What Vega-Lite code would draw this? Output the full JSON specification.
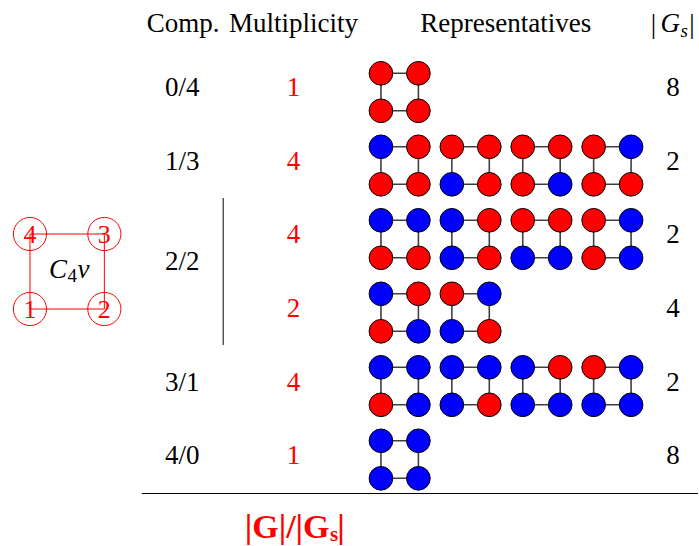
{
  "$schema": "https://vega.github.io/schema/vega-lite/v6.json",
  "width": 699,
  "height": 546,
  "autosize": {"type": "fit", "contains": "padding"},
  "padding": 0,
  "config": {
    "view": {"stroke": null},
    "axis": {"disable": true},
    "legend": {"disable": true}
  },
  "datasets": {
    "groups": [
      {"x": 381.5, "y": 73.3, "x2": 419, "y2": 110.8},
      {"x": 381.5, "y": 146.8, "x2": 419, "y2": 184.3},
      {"x": 452.5, "y": 146.8, "x2": 490, "y2": 184.3},
      {"x": 523.5, "y": 146.8, "x2": 561, "y2": 184.3},
      {"x": 594.5, "y": 146.8, "x2": 632, "y2": 184.3},
      {"x": 381.5, "y": 220.3, "x2": 419, "y2": 257.8},
      {"x": 452.5, "y": 220.3, "x2": 490, "y2": 257.8},
      {"x": 523.5, "y": 220.3, "x2": 561, "y2": 257.8},
      {"x": 594.5, "y": 220.3, "x2": 632, "y2": 257.8},
      {"x": 381.5, "y": 293.8, "x2": 419, "y2": 331.3},
      {"x": 452.5, "y": 293.8, "x2": 490, "y2": 331.3},
      {"x": 381.5, "y": 367.3, "x2": 419, "y2": 404.8},
      {"x": 452.5, "y": 367.3, "x2": 490, "y2": 404.8},
      {"x": 523.5, "y": 367.3, "x2": 561, "y2": 404.8},
      {"x": 594.5, "y": 367.3, "x2": 632, "y2": 404.8},
      {"x": 381.5, "y": 440.8, "x2": 419, "y2": 478.3}
    ],
    "nodes": [
      {"x": 381.5, "y": 73.3, "c": "R"}, {"x": 419, "y": 73.3, "c": "R"}, {"x": 381.5, "y": 110.8, "c": "R"}, {"x": 419, "y": 110.8, "c": "R"},

      {"x": 381.5, "y": 146.8, "c": "B"}, {"x": 419, "y": 146.8, "c": "R"}, {"x": 381.5, "y": 184.3, "c": "R"}, {"x": 419, "y": 184.3, "c": "R"},
      {"x": 452.5, "y": 146.8, "c": "R"}, {"x": 490, "y": 146.8, "c": "R"}, {"x": 452.5, "y": 184.3, "c": "B"}, {"x": 490, "y": 184.3, "c": "R"},
      {"x": 523.5, "y": 146.8, "c": "R"}, {"x": 561, "y": 146.8, "c": "R"}, {"x": 523.5, "y": 184.3, "c": "R"}, {"x": 561, "y": 184.3, "c": "B"},
      {"x": 594.5, "y": 146.8, "c": "R"}, {"x": 632, "y": 146.8, "c": "B"}, {"x": 594.5, "y": 184.3, "c": "R"}, {"x": 632, "y": 184.3, "c": "R"},

      {"x": 381.5, "y": 220.3, "c": "B"}, {"x": 419, "y": 220.3, "c": "B"}, {"x": 381.5, "y": 257.8, "c": "R"}, {"x": 419, "y": 257.8, "c": "R"},
      {"x": 452.5, "y": 220.3, "c": "B"}, {"x": 490, "y": 220.3, "c": "R"}, {"x": 452.5, "y": 257.8, "c": "B"}, {"x": 490, "y": 257.8, "c": "R"},
      {"x": 523.5, "y": 220.3, "c": "R"}, {"x": 561, "y": 220.3, "c": "R"}, {"x": 523.5, "y": 257.8, "c": "B"}, {"x": 561, "y": 257.8, "c": "B"},
      {"x": 594.5, "y": 220.3, "c": "R"}, {"x": 632, "y": 220.3, "c": "B"}, {"x": 594.5, "y": 257.8, "c": "R"}, {"x": 632, "y": 257.8, "c": "B"},

      {"x": 381.5, "y": 293.8, "c": "B"}, {"x": 419, "y": 293.8, "c": "R"}, {"x": 381.5, "y": 331.3, "c": "R"}, {"x": 419, "y": 331.3, "c": "B"},
      {"x": 452.5, "y": 293.8, "c": "R"}, {"x": 490, "y": 293.8, "c": "B"}, {"x": 452.5, "y": 331.3, "c": "B"}, {"x": 490, "y": 331.3, "c": "R"},

      {"x": 381.5, "y": 367.3, "c": "B"}, {"x": 419, "y": 367.3, "c": "B"}, {"x": 381.5, "y": 404.8, "c": "R"}, {"x": 419, "y": 404.8, "c": "B"},
      {"x": 452.5, "y": 367.3, "c": "B"}, {"x": 490, "y": 367.3, "c": "B"}, {"x": 452.5, "y": 404.8, "c": "B"}, {"x": 490, "y": 404.8, "c": "R"},
      {"x": 523.5, "y": 367.3, "c": "B"}, {"x": 561, "y": 367.3, "c": "R"}, {"x": 523.5, "y": 404.8, "c": "B"}, {"x": 561, "y": 404.8, "c": "B"},
      {"x": 594.5, "y": 367.3, "c": "R"}, {"x": 632, "y": 367.3, "c": "B"}, {"x": 594.5, "y": 404.8, "c": "B"}, {"x": 632, "y": 404.8, "c": "B"},

      {"x": 381.5, "y": 440.8, "c": "B"}, {"x": 419, "y": 440.8, "c": "B"}, {"x": 381.5, "y": 478.3, "c": "B"}, {"x": 419, "y": 478.3, "c": "B"}
    ],
    "lines": [
      {"x": 223.5, "y": 198, "x2": 223.5, "y2": 345},
      {"x": 142, "y": 493.5, "x2": 699, "y2": 493.5}
    ],
    "header": [
      {"x": 183.5, "y": 32, "t": "Comp."},
      {"x": 294, "y": 32, "t": "Multiplicity"},
      {"x": 506.5, "y": 32, "t": "Representatives"},
      {"x": 654.5, "y": 33, "t": "|"},
      {"x": 693, "y": 33, "t": "|"},
      {"x": 182.5, "y": 96, "t": "0/4"},
      {"x": 182.5, "y": 169.5, "t": "1/3"},
      {"x": 182.5, "y": 270, "t": "2/2"},
      {"x": 182.5, "y": 390.5, "t": "3/1"},
      {"x": 182.5, "y": 464, "t": "4/0"},
      {"x": 674, "y": 96, "t": "8"},
      {"x": 674, "y": 169.5, "t": "2"},
      {"x": 674, "y": 243, "t": "2"},
      {"x": 674, "y": 317, "t": "4"},
      {"x": 674, "y": 390.5, "t": "2"},
      {"x": 674, "y": 464, "t": "8"}
    ],
    "mult": [
      {"x": 294, "y": 96, "t": "1"},
      {"x": 294, "y": 169.5, "t": "4"},
      {"x": 294, "y": 243, "t": "4"},
      {"x": 294, "y": 317, "t": "2"},
      {"x": 294, "y": 390.5, "t": "4"},
      {"x": 294, "y": 464, "t": "1"}
    ],
    "square": [
      {"x": 30, "y": 234, "t": "4"},
      {"x": 104.5, "y": 234, "t": "3"},
      {"x": 30, "y": 309, "t": "1"},
      {"x": 104.5, "y": 309, "t": "2"}
    ]
  },
  "encoding": {
    "x": {"field": "x", "type": "quantitative", "scale": {"domain": [0, 699], "nice": false, "zero": false}},
    "y": {"field": "y", "type": "quantitative", "scale": {"domain": [546, 0], "nice": false, "zero": false}}
  },
  "layer": [
    {
      "data": {"name": "lines"},
      "mark": {"type": "rule", "color": "black", "strokeWidth": 1, "opacity": 1},
      "encoding": {"x2": {"field": "x2"}, "y2": {"field": "y2"}}
    },
    {
      "data": {"name": "groups"},
      "mark": {"type": "rect", "fillOpacity": 0, "stroke": "#404040", "strokeWidth": 1.6},
      "encoding": {"x2": {"field": "x2"}, "y2": {"field": "y2"}}
    },
    {
      "data": {"name": "nodes"},
      "mark": {"type": "point", "shape": "circle", "filled": true, "size": 560, "stroke": "black", "strokeWidth": 1, "opacity": 1, "fillOpacity": 1},
      "encoding": {
        "color": {"field": "c", "type": "nominal", "scale": {"domain": ["R", "B"], "range": ["#ff0000", "#0000ff"]}}
      }
    },
    {
      "data": {"name": "header"},
      "mark": {"type": "text", "font": "Liberation Serif", "fontSize": 27, "align": "center", "baseline": "alphabetic", "color": "black"},
      "encoding": {"text": {"field": "t"}}
    },
    {
      "data": {"name": "mult"},
      "mark": {"type": "text", "font": "Liberation Serif", "fontSize": 27, "align": "center", "baseline": "alphabetic", "color": "#ff0000"},
      "encoding": {"text": {"field": "t"}}
    },
    {
      "data": {"values": [{"x": 681, "y": 32, "t": "G"}]},
      "mark": {"type": "text", "font": "Liberation Serif", "fontSize": 27, "align": "right", "baseline": "alphabetic", "fontStyle": "italic", "color": "black"},
      "encoding": {"text": {"field": "t"}}
    },
    {
      "data": {"values": [{"x": 681.5, "y": 37, "t": "s"}]},
      "mark": {"type": "text", "font": "Liberation Serif", "align": "left", "baseline": "alphabetic", "fontStyle": "italic", "fontSize": 19, "color": "black"},
      "encoding": {"text": {"field": "t"}}
    },
    {
      "data": {"values": [{"x": 30, "y": 234, "x2": 104.5, "y2": 309}]},
      "mark": {"type": "rect", "fillOpacity": 0, "stroke": "#ff0000", "strokeWidth": 1},
      "encoding": {"x2": {"field": "x2"}, "y2": {"field": "y2"}}
    },
    {
      "data": {"name": "square"},
      "mark": {"type": "point", "shape": "circle", "filled": false, "size": 1100, "stroke": "#ff0000", "strokeWidth": 1, "opacity": 1}
    },
    {
      "data": {"name": "square"},
      "mark": {"type": "text", "font": "Liberation Serif", "align": "center", "baseline": "middle", "fontSize": 26, "color": "#ff0000", "dy": 1},
      "encoding": {"text": {"field": "t"}}
    },
    {
      "data": {"values": [{"x": 67, "y": 278, "t": "C"}]},
      "mark": {"type": "text", "font": "Liberation Serif", "align": "right", "baseline": "alphabetic", "fontStyle": "italic", "fontSize": 27, "color": "black"},
      "encoding": {"text": {"field": "t"}}
    },
    {
      "data": {"values": [{"x": 67.5, "y": 282, "t": "4"}]},
      "mark": {"type": "text", "font": "Liberation Serif", "align": "left", "baseline": "alphabetic", "fontSize": 19, "color": "black"},
      "encoding": {"text": {"field": "t"}}
    },
    {
      "data": {"values": [{"x": 77.5, "y": 278, "t": "v"}]},
      "mark": {"type": "text", "font": "Liberation Serif", "align": "left", "baseline": "alphabetic", "fontStyle": "italic", "fontSize": 27, "color": "black"},
      "encoding": {"text": {"field": "t"}}
    },
    {
      "data": {"values": [{"x": 330, "y": 538, "t": "|G|/|G"}]},
      "mark": {"type": "text", "font": "Liberation Serif", "align": "right", "baseline": "alphabetic", "fontWeight": "bold", "fontSize": 34, "color": "#ff0000"},
      "encoding": {"text": {"field": "t"}}
    },
    {
      "data": {"values": [{"x": 330.5, "y": 541, "t": "s"}]},
      "mark": {"type": "text", "font": "Liberation Serif", "align": "left", "baseline": "alphabetic", "fontWeight": "bold", "fontSize": 21, "color": "#ff0000"},
      "encoding": {"text": {"field": "t"}}
    },
    {
      "data": {"values": [{"x": 341.5, "y": 538, "t": "|"}]},
      "mark": {"type": "text", "font": "Liberation Serif", "align": "center", "baseline": "alphabetic", "fontWeight": "bold", "fontSize": 34, "color": "#ff0000"},
      "encoding": {"text": {"field": "t"}}
    }
  ]
}
